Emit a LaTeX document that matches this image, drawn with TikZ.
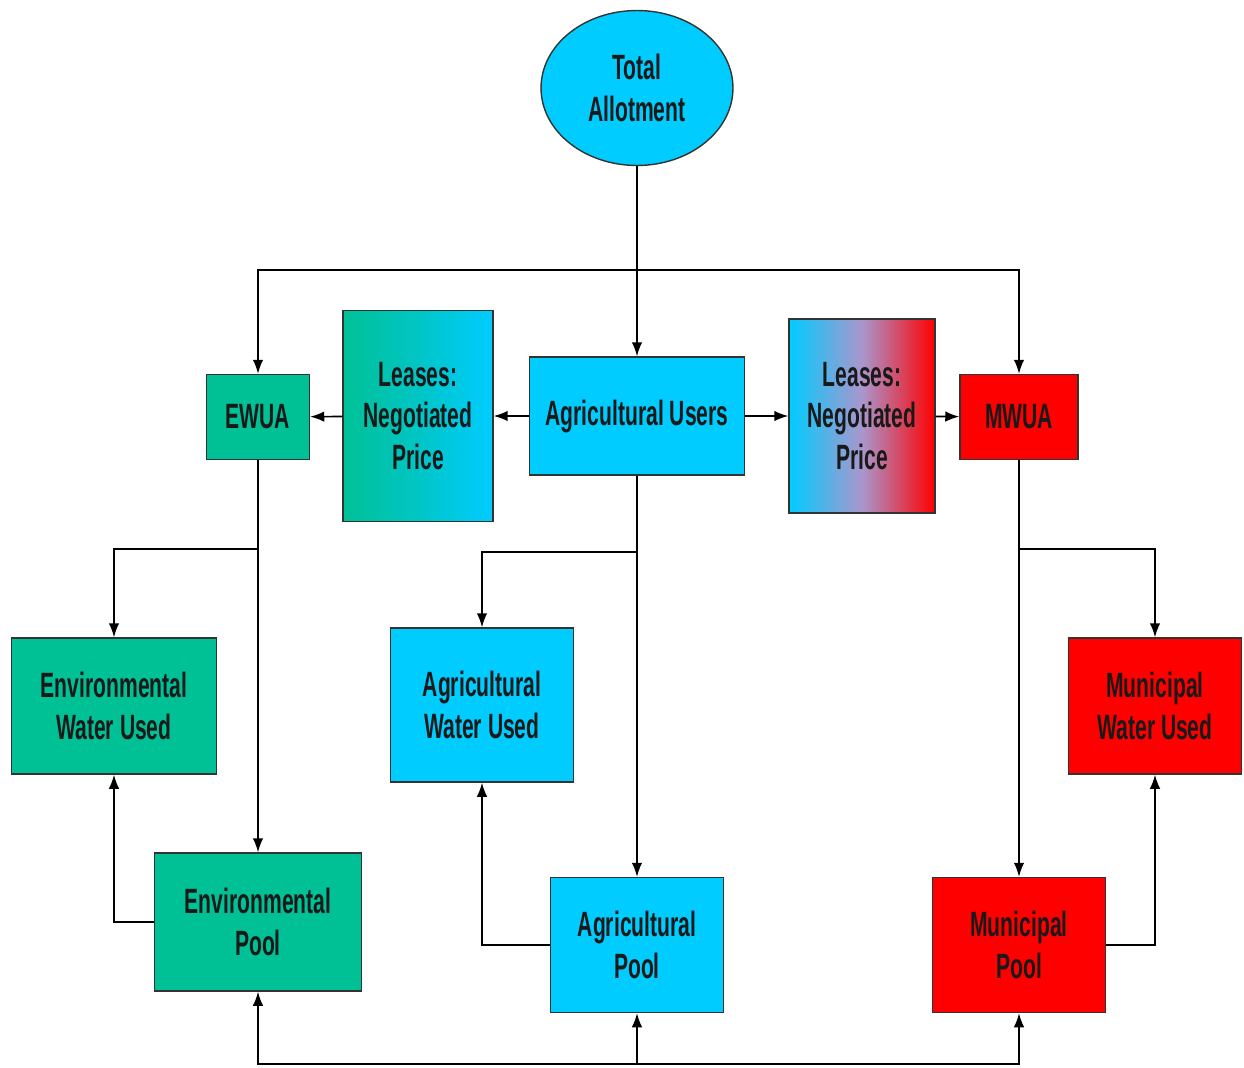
\documentclass[tikz,border=0pt]{standalone}
\usepackage{fontspec}
\setmainfont{Liberation Sans}[FakeStretch=0.6]
\usetikzlibrary{shapes.geometric, arrows.meta}

\definecolor{envgreen}{RGB}{0,192,150}
\definecolor{agcyan}{RGB}{0,204,255}
\definecolor{munired}{RGB}{255,0,0}
\definecolor{leasemid}{RGB}{170,150,205}

\tikzset{
	box/.style={draw=black!80, line width=0.8pt, align=center, inner sep=0pt,
		text=black!90, font=\fontsize{20}{23.5}\selectfont\bfseries},
	flow/.style={-{Latex[length=8pt,width=6pt]}, line width=0.9pt},
}

\begin{document}
\begin{tikzpicture}[x=0.02cm, y=-0.02cm]
	\useasboundingbox (0,0) rectangle (1244,1068);
	% top row
	\node[box, ellipse, fill=agcyan, minimum width=3.84cm, minimum height=3.1cm] (total) at (637,88) {Total\\Allotment};
	\node[box, fill=agcyan, minimum width=4.3cm, minimum height=2.36cm] (agusers) at (637,416) {Agricultural Users};
	\node[box, left color=envgreen, right color=agcyan, middle color=envgreen!55!agcyan, minimum width=3cm, minimum height=4.22cm] (leaseL) at (418,416) {Leases:\\Negotiated\\Price};
	\node[box, left color=agcyan, right color=munired, middle color=leasemid, minimum width=2.92cm, minimum height=3.88cm] (leaseR) at (862,416) {Leases:\\Negotiated\\Price};
	\node[box, fill=envgreen, minimum width=2.06cm, minimum height=1.7cm] (ewua) at (258,417) {EWUA};
	\node[box, fill=munired, minimum width=2.36cm, minimum height=1.7cm] (mwua) at (1019,417) {MWUA};
	% water used and pools
	\node[box, fill=envgreen, minimum width=4.1cm, minimum height=2.72cm] (envused) at (114,706) {Environmental\\Water Used};
	\node[box, fill=envgreen, minimum width=4.14cm, minimum height=2.76cm] (envpool) at (258,922) {Environmental\\Pool};
	\node[box, fill=agcyan, minimum width=3.66cm, minimum height=3.08cm] (agused) at (482,705) {Agricultural\\Water Used};
	\node[box, fill=agcyan, minimum width=3.46cm, minimum height=2.7cm] (agpool) at (637,945) {Agricultural\\Pool};
	\node[box, fill=munired, minimum width=3.46cm, minimum height=2.72cm] (muniused) at (1155,706) {Municipal\\Water Used};
	\node[box, fill=munired, minimum width=3.46cm, minimum height=2.7cm] (munipool) at (1019,945) {Municipal\\Pool};

	\coordinate (topbar) at (637,270);
	\coordinate (ewsplit) at (258,549);
	\coordinate (agsplit) at (637,552);
	\coordinate (mwsplit) at (1019,549);
	\coordinate (base) at (637,1064);

	\draw[flow] (total) -- (agusers);
	\draw[flow] (topbar) -| (ewua);
	\draw[flow] (topbar) -| (mwua);
	\draw[flow] (agusers) -- (leaseL);
	\draw[flow] (leaseL) -- (ewua);
	\draw[flow] (agusers) -- (leaseR);
	\draw[flow] (leaseR) -- (mwua);

	\draw[flow] (ewua) -- (envpool);
	\draw[flow] (ewsplit) -| (envused);
	\draw[flow] (agusers) -- (agpool);
	\draw[flow] (agsplit) -| (agused);
	\draw[flow] (mwua) -- (munipool);
	\draw[flow] (mwsplit) -| (muniused);

	\draw[flow] (envpool) -| (envused);
	\draw[flow] (agpool) -| (agused);
	\draw[flow] (munipool) -| (muniused);

	\draw[flow] (base) -- (agpool);
	\draw[flow] (base) -| (envpool);
	\draw[flow] (base) -| (munipool);
\end{tikzpicture}
\end{document}
